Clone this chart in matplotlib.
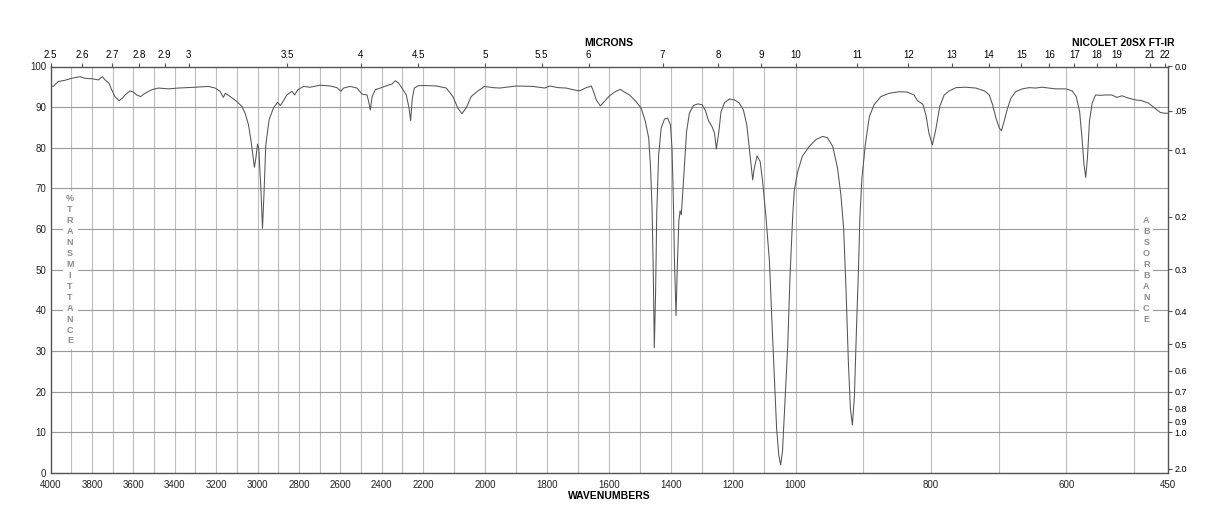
import numpy as np
import matplotlib.pyplot as plt

plt.rcParams['font.family'] = ['Liberation Sans', 'DejaVu Sans']

# spectrum (wavenumber cm-1, %T)
wavenumber = [4000, 3987, 3963, 3931, 3898, 3858, 3834, 3802, 3769, 3750, 3737, 3718, 3705, 3689,
              3669, 3653, 3640, 3616, 3600, 3584, 3565, 3544, 3511, 3479, 3430, 3382, 3302, 3237,
              3205, 3181, 3165, 3156, 3132, 3100, 3076, 3060, 3044, 3031, 3021, 3015, 3008, 3000,
              2994, 2984, 2976, 2969, 2960, 2944, 2923, 2903, 2890, 2879, 2858, 2834, 2821, 2805,
              2777, 2746, 2697, 2649, 2616, 2597, 2584, 2552, 2520, 2495, 2471, 2463, 2455, 2446,
              2431, 2407, 2375, 2350, 2334, 2318, 2302, 2281, 2268, 2260, 2252, 2242, 2222, 2189,
              2157, 2125, 2104, 2088, 2075, 2061, 2045, 2023, 2002, 1975, 1953, 1900, 1846, 1808,
              1792, 1765, 1739, 1717, 1696, 1674, 1658, 1653, 1642, 1629, 1616, 1599, 1583, 1565,
              1551, 1535, 1514, 1497, 1484, 1473, 1467, 1462, 1458, 1455, 1451, 1447, 1441, 1433,
              1422, 1412, 1403, 1398, 1394, 1390, 1385, 1381, 1376, 1372, 1368, 1364, 1357, 1351,
              1342, 1329, 1315, 1301, 1290, 1280, 1269, 1261, 1255, 1247, 1240, 1229, 1213, 1197,
              1181, 1168, 1157, 1149, 1142, 1138, 1133, 1124, 1114, 1106, 1095, 1084, 1076, 1068,
              1061, 1054, 1048, 1042, 1033, 1025, 1018, 1014, 1009, 1004, 997, 990, 980, 970,
              960, 953, 945, 938, 933, 929, 925.5, 922, 919, 916, 913, 910, 907, 905,
              902, 897, 891, 884, 874, 862, 847, 835, 825, 820, 812, 807.5, 803, 798,
              793, 787, 780.5, 773, 763, 748.5, 734, 721, 714, 709, 704, 699, 696, 692,
              687, 682, 675, 665, 655, 645.5, 636, 626, 616, 601, 591.5, 585.5, 580.5, 577,
              574, 571.5, 569, 566, 562, 557, 550, 542.5, 533, 525.5, 518, 508, 498.5, 489,
              479, 469, 461.5, 455, 450]
transmittance = [95.3, 95.1, 96.3, 96.6, 97.1, 97.5, 97.1, 97.0, 96.7, 97.5, 96.7, 95.9, 94.3, 92.6,
                 91.6, 92.2, 93.0, 94.0, 93.7, 93.0, 92.6, 93.4, 94.3, 94.7, 94.5, 94.7, 94.9, 95.1,
                 94.7, 93.9, 92.4, 93.4, 92.6, 91.4, 90.2, 88.5, 85.7, 81.6, 77.5, 75.2, 77.5, 80.9,
                 79.9, 70.1, 60.2, 68.4, 80.7, 86.9, 89.8, 91.2, 90.4, 91.2, 93.0, 93.9, 93.0, 94.3,
                 95.1, 94.9, 95.4, 95.2, 94.8, 93.9, 94.7, 95.1, 94.7, 93.2, 93.0, 91.4, 89.3, 92.6,
                 94.3, 94.7, 95.3, 95.7, 96.5, 95.9, 94.7, 93.0, 89.8, 86.7, 92.2, 94.7, 95.3, 95.3,
                 95.2, 94.7, 92.6, 89.8, 88.4, 89.8, 92.6, 94.0, 95.1, 94.8, 94.7, 95.2, 95.1, 94.7,
                 95.2, 94.8, 94.7, 94.3, 94.0, 94.8, 95.2, 94.3, 91.8, 90.3, 91.4, 92.8, 93.7, 94.4,
                 93.7, 93.0, 91.4, 89.7, 86.5, 82.4, 75.0, 64.3, 47.9, 30.8, 43.8, 64.3, 78.3, 84.8,
                 87.1, 87.3, 85.6, 79.9, 68.4, 52.0, 38.7, 50.4, 61.9, 64.5, 63.5, 68.4, 76.6, 84.0,
                 88.5, 90.4, 90.8, 90.6, 89.1, 86.6, 85.2, 83.6, 79.7, 84.0, 88.9, 91.1, 92.0, 91.8,
                 91.0, 89.3, 85.6, 79.9, 75.0, 72.1, 75.0, 78.0, 76.6, 71.7, 62.7, 52.0, 37.2, 23.3,
                 11.0, 4.4, 2.0, 5.3, 19.2, 31.5, 47.9, 55.0, 63.5, 69.5, 74.0, 77.9, 80.3, 82.0,
                 82.8, 82.5, 80.3, 75.0, 68.4, 60.2, 45.4, 27.4, 15.9, 11.8, 19.2, 35.6, 50.4, 62.7,
                 72.5, 80.7, 87.7, 90.6, 92.6, 93.4, 93.8, 93.7, 93.0, 91.6, 90.7, 88.1, 83.6, 80.7,
                 84.4, 90.2, 93.0, 94.0, 94.8, 94.9, 94.7, 94.0, 93.0, 90.6, 87.3, 84.8, 84.2, 86.5,
                 89.7, 92.2, 93.8, 94.5, 94.8, 94.7, 94.9, 94.7, 94.5, 94.5, 94.0, 92.6, 88.9, 82.4,
                 75.8, 72.7, 77.4, 86.5, 91.0, 93.0, 92.9, 93.0, 93.0, 92.4, 92.8, 92.2, 91.8, 91.6,
                 91.0, 89.7, 88.7, 88.5, 88.5]

wn_ticks = [4000, 3800, 3600, 3400, 3200, 3000, 2800, 2600, 2400, 2200, 2000,
            1800, 1600, 1400, 1200, 1000, 800, 600, 450]
micron_labels = ['2.5', '2.6', '2.7', '2.8', '2.9', '3', '3.5', '4', '4.5', '5', '5.5', '6',
                 '7', '8', '9', '10', '11', '12', '13', '14', '15', '16', '17', '18', '19', '21', '22']
absorbance_labels = ['0.0', '.05', '0.1', '0.2', '0.3', '0.4', '0.5', '0.6', '0.7', '0.8', '0.9', '1.0', '2.0']

# chart paper: three equal-width linear segments 4000-2200, 2200-1000, 1000-450
breaks = [450, 1000, 2200, 4000]
def fwd(x):
    return np.interp(x, breaks, [0, 1, 2, 3])
def inv(u):
    return np.interp(u, [0, 1, 2, 3], breaks)

fig = plt.figure(figsize=(12.18, 5.28), dpi=100)
ax = fig.add_axes([50.6 / 1218, 1 - 473 / 528, 1117.4 / 1218, 406.5 / 528])
ax.set_xscale('function', functions=(fwd, inv))
ax.set_xlim(4000, 450)
ax.set_ylim(0, 100)

ax.plot(wavenumber, transmittance, color='#555555', lw=0.75, zorder=3)

ax.set_xticks(wn_ticks)
ax.set_xticklabels([str(t) for t in wn_ticks])
ax.set_xticks(range(500, 4000, 100), minor=True)
ax.xaxis.remove_overlapping_locs = False
ax.set_yticks(range(0, 101, 10))
ax.tick_params(axis='both', which='both', length=0, labelsize=7, colors='#222222')
ax.tick_params(axis='x', pad=5)
ax.tick_params(axis='y', pad=3)
ax.grid(which='minor', axis='x', color='#bdbdbd', lw=0.8)
ax.grid(which='major', axis='y', color='#9a9a9a', lw=0.8)
for s in ax.spines.values():
    s.set_color('#555555')
    s.set_linewidth(1)

# top micron axis
ax_top = ax.twiny()
ax_top.set_xscale('function', functions=(fwd, inv))
ax_top.set_xlim(4000, 450)
ax_top.set_xticks([10000 / float(m) for m in micron_labels])
ax_top.set_xticklabels(micron_labels)
ax_top.tick_params(axis='x', direction='out', length=3, width=0.8, color='#555555',
                   labelsize=7, pad=1.5)
for s in ax_top.spines.values():
    s.set_visible(False)

# right absorbance axis
ax_r = ax.twinx()
ax_r.set_ylim(0, 100)
ax_r.set_yticks([100 * 10 ** (-float(a)) for a in absorbance_labels])
ax_r.set_yticklabels(absorbance_labels)
ax_r.tick_params(axis='y', direction='out', length=3, width=0.8, color='#555555',
                 labelsize=6.5, pad=1.5)
for s in ax_r.spines.values():
    s.set_visible(False)

ax.text(3906, 50, '%\nT\nR\nA\nN\nS\nM\nI\nT\nT\nA\nN\nC\nE', ha='center', va='center',
        fontsize=6.5, fontweight='bold', color='#8c8c8c', linespacing=1.28, zorder=4,
        bbox=dict(facecolor='white', edgecolor='none', pad=2.5))
ax.text(482, 50, 'A\nB\nS\nO\nR\nB\nA\nN\nC\nE', ha='center', va='center',
        fontsize=6.5, fontweight='bold', color='#8c8c8c', linespacing=1.28, zorder=4,
        bbox=dict(facecolor='white', edgecolor='none', pad=2.5))

fig.text(609 / 1218, 1 - 43 / 528, 'MICRONS', ha='center', va='center', fontsize=7.5, fontweight='bold')
fig.text(1174 / 1218, 1 - 43 / 528, 'NICOLET 20SX FT-IR', ha='right', va='center', fontsize=7.5, fontweight='bold')
fig.text(609 / 1218, 1 - 496 / 528, 'WAVENUMBERS', ha='center', va='center', fontsize=7.5, fontweight='bold')

fig.savefig('out.png', dpi=100, facecolor='w')
